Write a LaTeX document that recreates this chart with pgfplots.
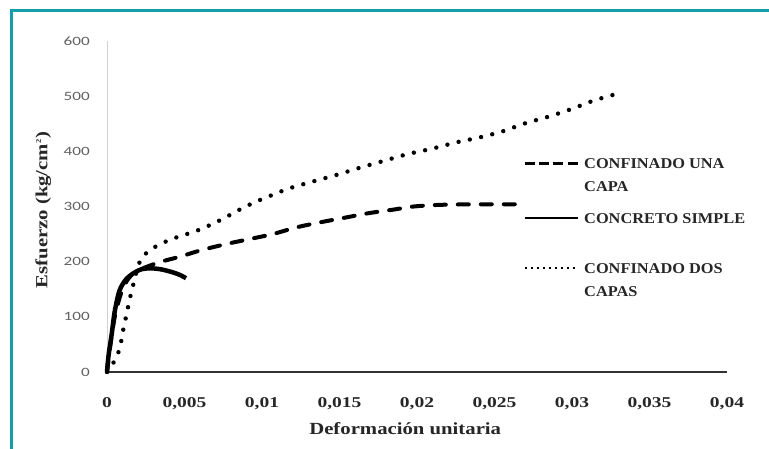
\documentclass[border=0pt]{standalone}
\usepackage{fontspec}
\usepackage{graphicx}
\setmainfont{Liberation Serif}
\newfontfamily\yticksfont{Carlito}
\usepackage{pgfplots}
\pgfplotsset{compat=1.18}
\definecolor{framecolor}{RGB}{20,158,170}
\tikzset{legrow/.style={inner sep=0pt, text height=10pt, text depth=#1}}
% horizontally widened text for ticks, labels and legend
\newcommand\wx[1]{\scalebox{1.3}[1]{#1}}
\newcommand\wy[1]{\scalebox{1.35}[1]{#1}}
\newcommand\wl[1]{\scalebox{1.22}[1]{#1}}
\newcommand\wg[1]{\scalebox{1.09}[1]{#1}}

% stress-strain curves
\pgfplotstableread{
e s
0 0
0.0002 45
0.0005 100
0.0009 142
0.0013 166
0.0018 181
0.0025 190
0.0035 200
0.0047 209
0.0061 221
0.0077 232
0.0092 241
0.0107 250
0.0122 262
0.0137 271
0.0154 280
0.0169 288
0.0184 294
0.0198 300
0.0215 303
0.0240 304
0.0266 304
}\unacapa
\pgfplotstableread{
e s
0 0
0.0001 30
0.0003 68
0.0005 110
0.0008 147
0.0012 167
0.0017 179
0.0022 186
0.0028 188
0.0035 186
0.0042 181
0.0047 176
0.0051 170
}\simple
\pgfplotstableread{
e s
0 0
0.0004 16
0.0007 33
0.00088 50
0.001 70
0.00115 90
0.0013 110
0.00145 130
0.0016 148
0.0018 170
0.002 192
0.0023 209
0.0027 219
0.0033 230
0.0041 240
0.0048 247
0.0056 254
0.0063 262
0.0070 271
0.0077 281
0.0084 292
0.0091 302
0.0098 311
0.0105 319
0.0112 327
0.0120 335
0.0135 347
0.0149 358
0.0164 371
0.0179 383
0.0194 395
0.0210 405
0.0225 416
0.0240 425
0.0255 436
0.0270 451
0.0285 463
0.0300 477
0.0314 492
0.0330 505
}\doscapas

\begin{document}
\begin{tikzpicture}
\useasboundingbox (0,0) rectangle (769pt,449pt);
\draw[framecolor, line width=2.7pt] (11.3pt,-20pt) -- (11.3pt,438.3pt) -- (800pt,438.3pt);
\begin{axis}[
  at={(107pt,77pt)}, anchor=south west,
  scale only axis, width=620pt, height=331pt,
  xmin=0, xmax=0.04, ymin=0, ymax=600,
  clip=false,
  axis x line=bottom, axis y line=left,
  x axis line style={-, line width=1.8pt, black!80},
  y axis line style={-, line width=0.8pt, black!18},
  major tick length=0pt,
  xtick={0,0.005,0.01,0.015,0.02,0.025,0.03,0.035,0.04},
  xticklabels={{\wx{0}},{\wx{0,005}},{\wx{0,01}},{\wx{0,015}},{\wx{0,02}},{\wx{0,025}},{\wx{0,03}},{\wx{0,035}},{\wx{0,04}}},
  ytick={0,100,200,300,400,500,600},
  yticklabels={\wy{0},\wy{100},\wy{200},\wy{300},\wy{400},\wy{500},\wy{600}},
  xticklabel style={font=\bfseries\fontsize{15}{17}\selectfont, anchor=base, inner sep=0pt, yshift=-36pt, text=black!85},
  yticklabel style={font=\yticksfont\fontsize{12.7}{14}\selectfont, anchor=east, inner sep=0pt, xshift=-17pt, text=black!62},
  xlabel={\wl{Deformación unitaria}},
  ylabel={\wl{Esfuerzo (kg/cm\textsuperscript{\scriptsize 2})}},
  every axis x label/.style={at={(axis description cs:0.481,-0.1903)}, anchor=base},
  every axis y label/.style={at={(axis description cs:-0.103,0.489)}, rotate=90, anchor=center},
  label style={font=\bfseries\fontsize{17}{20}\selectfont, text=black!85},
  legend style={at={(axis description cs:0.6710,0.6465)}, anchor=north west,
    draw=none, fill=none, inner sep=0pt, row sep=0pt, column sep=5pt,
    font=\bfseries\fontsize{15}{18}\selectfont, text=black!85,
    cells={anchor=base west}},
  legend image code/.code={\draw[#1] (0pt,5pt) -- (53pt,5pt);},
]
\addplot[black, line width=4pt, line cap=round, dash pattern=on 11pt off 12pt, smooth, tension=0.5, forget plot] table[x=e, y=s] {\unacapa};
\addplot[black, line width=4.5pt, smooth, tension=0.5, forget plot] table[x=e, y=s] {\simple};
\addplot[black, line width=4.4pt, line cap=round, dash pattern=on 0pt off 11.5pt, smooth, tension=0.5, forget plot] table[x=e, y=s] {\doscapas};

\addlegendimage{black, line width=3pt, dash pattern=on 10pt off 4.3pt}
\addlegendentry[legrow=13.5pt]{\wg{CONFINADO UNA}}
\addlegendimage{empty legend}
\addlegendentry[legrow=21.5pt]{\wg{CAPA}}
\addlegendimage{black, line width=2.5pt}
\addlegendentry[legrow=40pt]{\wg{CONCRETO SIMPLE}}
\addlegendimage{black, line width=1.6pt, dash pattern=on 2.4pt off 3.6pt}
\addlegendentry[legrow=13.5pt]{\wg{CONFINADO DOS}}
\addlegendimage{empty legend}
\addlegendentry[legrow=0pt]{\wg{CAPAS}}
\end{axis}
\end{tikzpicture}
\end{document}
